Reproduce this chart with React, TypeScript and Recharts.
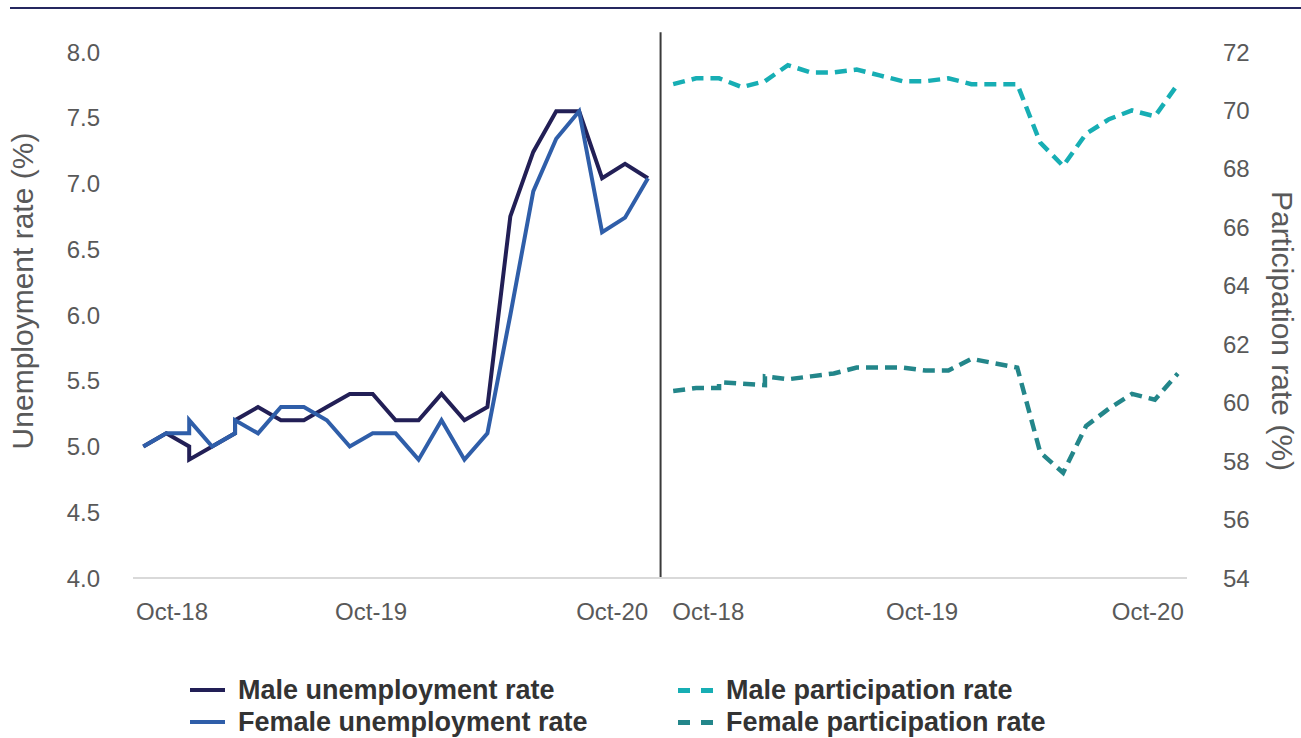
import React from 'react';
import { LineChart, Line, XAxis, YAxis, ReferenceLine } from 'recharts';

// Observation index (two observations share positions 2 and 4)
const periodIdx = [0, 1, 2, 2, 3, 4, 4, 5, 6, 7, 8, 9, 10, 11, 12, 13, 14, 15, 16, 17, 18, 19, 20, 21, 22];

const maleUnemployment = [5.0, 5.1, 5.0, 4.9, 5.0, 5.1, 5.2, 5.3, 5.2, 5.2, 5.3, 5.4, 5.4, 5.2, 5.2, 5.4, 5.2, 5.3, 6.75, 7.24, 7.55, 7.55, 7.04, 7.15, 7.04];
const femaleUnemployment = [5.0, 5.1, 5.1, 5.2, 5.0, 5.1, 5.2, 5.1, 5.3, 5.3, 5.2, 5.0, 5.1, 5.1, 4.9, 5.2, 4.9, 5.1, 6.0, 6.94, 7.34, 7.55, 6.63, 6.74, 7.04];
const maleParticipation = [70.9, 71.1, 71.1, 71.1, 70.8, 71.0, 71.0, 71.55, 71.3, 71.3, 71.4, 71.2, 71.0, 71.0, 71.1, 70.9, 70.9, 70.9, 68.9, 68.1, 69.2, 69.7, 70.0, 69.8, 70.9];
const femaleParticipation = [60.4, 60.5, 60.5, 60.7, 60.65, 60.6, 60.9, 60.8, 60.9, 61.0, 61.2, 61.2, 61.2, 61.1, 61.1, 61.5, 61.35, 61.2, 58.3, 57.6, 59.2, 59.8, 60.3, 60.1, 61.0];

// x-axis tick labels and their positions (in observation units across both panels)
const tickLabels = ['Oct-18', 'Oct-19', 'Oct-20', 'Oct-18', 'Oct-19', 'Oct-20'];
const tickPositions = [1.25, 9.93, 20.44, 24.63, 33.95, 43.79];

const leftTicks = [4.0, 4.5, 5.0, 5.5, 6.0, 6.5, 7.0, 7.5, 8.0];
const rightTicks = [54, 56, 58, 60, 62, 64, 66, 68, 70, 72];

const PANEL_OFFSET = 23.1;
const SEPARATOR_X = (22 + PANEL_OFFSET) / 2;

const leftData = periodIdx.map((p, i) => ({ x: p, male: maleUnemployment[i], female: femaleUnemployment[i] }));
const rightData = periodIdx.map((p, i) => ({ x: p + PANEL_OFFSET, male: maleParticipation[i], female: femaleParticipation[i] }));

const FONT = '"Liberation Sans", Arial, sans-serif';
const C_MALE_U = '#221F56';
const C_FEMALE_U = '#2F5EA9';
const C_MALE_P = '#17AEB4';
const C_FEMALE_P = '#23868A';
const TICK = '#595959';

const LeftTitle = () => (
  <text x={22} y={291} transform="rotate(-90 22 291)" textAnchor="middle" dominantBaseline="central"
    fontFamily={FONT} fontSize={30} fill={TICK}>Unemployment rate (%)</text>
);
const RightTitle = () => (
  <text x={1282} y={331} transform="rotate(90 1282 331)" textAnchor="middle" dominantBaseline="central"
    fontFamily={FONT} fontSize={30} fill={TICK}>Participation rate (%)</text>
);

const legendItems = [
  { label: 'Male unemployment rate', color: C_MALE_U, dashed: false, left: 190, top: 690 },
  { label: 'Female unemployment rate', color: C_FEMALE_U, dashed: false, left: 190, top: 722 },
  { label: 'Male participation rate', color: C_MALE_P, dashed: true, left: 678, top: 690 },
  { label: 'Female participation rate', color: C_FEMALE_P, dashed: true, left: 678, top: 722 },
];

export default function App() {
  return (
    <div style={{ position: 'absolute', left: 0, top: 0, width: 1301, height: 738, background: '#fff', overflow: 'hidden' }}>
      <div style={{ position: 'absolute', left: 10, top: 7, width: 1291, height: 2, background: '#25275F' }} />
      <LineChart width={1301} height={738} data={leftData} margin={{ top: 52, right: 0, bottom: 100, left: 0 }}>
        <XAxis type="number" dataKey="x" domain={[-0.45, 45.5]} ticks={tickPositions} allowDataOverflow
          tickFormatter={(v: number) => tickLabels[tickPositions.indexOf(v)] ?? ''}
          interval={0} height={60} tickLine={false} tickSize={0} tickMargin={25}
          axisLine={{ stroke: '#D9D9D9', strokeWidth: 2 }}
          tick={{ fontFamily: FONT, fontSize: 24, fill: TICK }} />
        <YAxis yAxisId="left" domain={[4, 8]} ticks={leftTicks} width={133} axisLine={false} tickLine={false}
          tickSize={0} tickMargin={33} tickFormatter={(v: number) => v.toFixed(1)}
          tick={{ fontFamily: FONT, fontSize: 24, fill: TICK }} label={() => <LeftTitle />} />
        <YAxis yAxisId="right" orientation="right" domain={[54, 72]} ticks={rightTicks} width={114} axisLine={false}
          tickLine={false} tickSize={0} tickMargin={36}
          tick={{ fontFamily: FONT, fontSize: 24, fill: TICK }} label={() => <RightTitle />} />
        <ReferenceLine yAxisId="left" ifOverflow="visible" stroke="#3A3A3A" strokeWidth={2}
          segment={[{ x: SEPARATOR_X, y: 4 }, { x: SEPARATOR_X, y: 8.15 }]} />
        <Line yAxisId="left" data={leftData} dataKey="male" stroke={C_MALE_U} strokeWidth={4} dot={false}
          isAnimationActive={false} strokeLinejoin="miter" />
        <Line yAxisId="left" data={leftData} dataKey="female" stroke={C_FEMALE_U} strokeWidth={4} dot={false}
          isAnimationActive={false} strokeLinejoin="miter" />
        <Line yAxisId="right" data={rightData} dataKey="male" stroke={C_MALE_P} strokeWidth={4.5} strokeDasharray="12 7"
          dot={false} isAnimationActive={false} />
        <Line yAxisId="right" data={rightData} dataKey="female" stroke={C_FEMALE_P} strokeWidth={4.5} strokeDasharray="12 7"
          dot={false} isAnimationActive={false} />
      </LineChart>
      {legendItems.map((it) => (
        <div key={it.label} style={{ position: 'absolute', left: it.left, top: it.top - 16, height: 32, display: 'flex', alignItems: 'center' }}>
          {it.dashed ? (
            <div style={{ width: 35, height: 5, display: 'flex', justifyContent: 'space-between' }}>
              <div style={{ width: 12, height: 5, background: it.color }} />
              <div style={{ width: 12, height: 5, background: it.color }} />
            </div>
          ) : (
            <div style={{ width: 35, height: 4, background: it.color }} />
          )}
          <span style={{ marginLeft: 13, fontFamily: FONT, fontWeight: 'bold', fontSize: 27, color: '#333333', whiteSpace: 'nowrap' }}>{it.label}</span>
        </div>
      ))}
    </div>
  );
}
